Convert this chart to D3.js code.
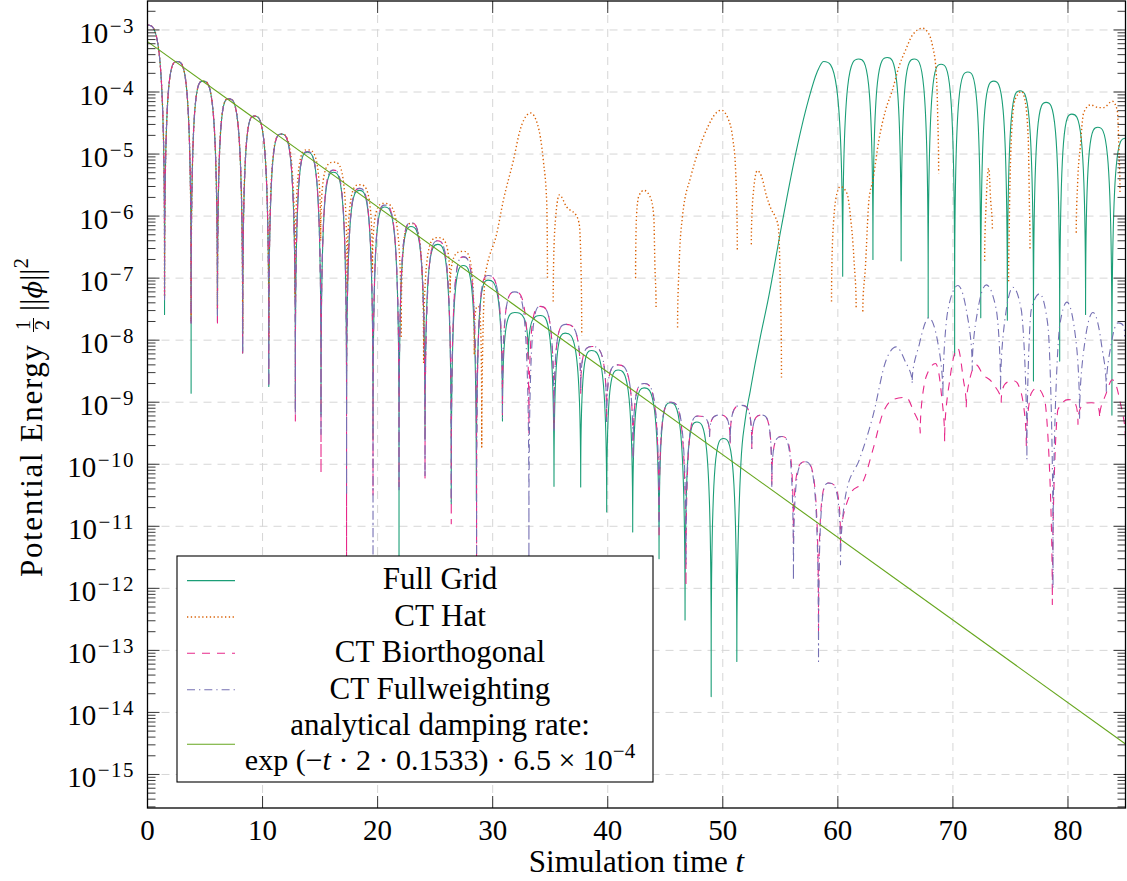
<!DOCTYPE html>
<html><head><meta charset="utf-8">
<script src="https://cdn.jsdelivr.net/npm/d3@7"></script>
<style>
body{margin:0;background:#fff}
svg{display:block}
text{font-family:"Liberation Serif","Times New Roman",serif;fill:#000}
</style></head>
<body><svg id="c" width="1127" height="881"></svg>
<script>
// ---------------- data (time t, potential energy) ----------------
const xTicks = [0,10,20,30,40,50,60,70,80];
const yTickExps = [-3,-4,-5,-6,-7,-8,-9,-10,-11,-12,-13,-14,-15];
const xDomain = [0,85];
const yDomain = [2.88e-16, 2.93e-3];

const fullGrid = [[0,1.2e-3],[1.48,2.6e-8],[2.58,3.1e-4],[3.79,1.4e-9],[4.83,1.5e-4],[6.08,2.0e-8],[7.06,7.8e-5],[8.27,6.2e-9],[9.29,4.1e-5],[10.54,1.8e-9],[11.63,2.1e-5],[12.85,7.9e-10],[13.89,1.07e-5],[15.08,6.3e-10],[16.17,5.1e-6],[17.3,6.6e-10],[18.43,2.6e-6],[19.6,2.5e-10],[20.62,1.4e-6],[21.86,3.2e-13],[22.9,6.8e-7],[24.12,2.6e-10],[25.23,3.5e-7],[26.4,2.3e-11],[27.45,1.6e-7],[28.58,2.6e-11],[29.6,9.3e-8],[30.85,5.0e-10],[31.92,2.8e-8],[33.1,5.0e-9],[34.15,2.5e-8],[35.33,4.4e-11],[36.3,1.3e-8],[37.65,4.3e-11],[38.58,6.8e-9],[39.91,1.7e-11],[40.9,3.3e-9],[42.17,8.1e-12],[43.16,1.7e-9],[44.46,3.0e-12],[45.42,9.8e-10],[46.72,3.1e-13],[47.74,4.8e-10],[48.99,1.8e-14],[50.06,2.6e-10],[51.22,6.6e-14],[51.57,1.0e-10],[51.94,5.1e-10],[52.38,1.5e-9],[52.81,4.2e-9],[53.25,1.1e-8],[53.94,4.5e-8],[55.1,6.8e-7],[56.28,9.1e-6],[57.44,7.4e-5],[58.2,2.1e-4],[58.76,3.1e-4],[60.42,1.07e-7],[61.82,3.4e-4],[63.05,2.0e-7],[64.3,3.6e-4],[65.5,1.9e-7],[66.63,3.4e-4],[67.85,2.3e-8],[68.97,2.8e-4],[70.15,5.6e-9],[71.3,2.1e-4],[72.42,2.3e-8],[73.55,1.5e-4],[74.73,2.1e-8],[75.82,1.05e-4],[77.0,2.2e-9],[78.1,6.8e-5],[79.28,4.6e-9],[80.34,4.4e-5],[81.53,2.6e-8],[82.59,2.7e-5],[83.82,6.2e-10],[85,1.8e-5]];

const ctHat = [[0,1.2e-3],[1.48,5.0e-8],[2.58,3.1e-4],[3.79,2.0e-8],[4.83,1.5e-4],[6.08,3.2e-8],[7.06,7.8e-5],[8.27,1.26e-8],[9.29,4.1e-5],[10.54,1.0e-8],[11.63,2.1e-5],[12.82,5.0e-8],[13.89,1.17e-5],[15.05,4.0e-7],[16.2,7.4e-6],[17.35,5.8e-8],[18.43,3.2e-6],[19.55,1.26e-7],[20.6,1.6e-6],[22.05,1.15e-8],[22.9,7.6e-7],[24.0,4.3e-9],[25.22,4.5e-7],[26.3,6.0e-8],[27.46,2.7e-7],[28.4,5.8e-9],[28.72,3.5e-8],[29.05,1.9e-10],[29.33,1.05e-7],[29.48,1.5e-7],[30.35,5.2e-7],[30.93,1.8e-6],[31.8,7.9e-6],[32.4,2.5e-5],[33.0,4.3e-5],[33.3,4.6e-5],[33.9,3.0e-5],[34.4,7.9e-6],[34.7,1.6e-6],[34.76,9.3e-8],
 null,[35.26,4.2e-8],[35.4,6.3e-7],[35.8,2.2e-6],[36.43,1.4e-6],[37.3,1.0e-6],[37.55,6.8e-7],[37.74,1.2e-8],
 null,[42.42,1.0e-7],[42.5,1.0e-6],[42.7,2.1e-6],[43.15,2.6e-6],[43.73,1.95e-6],[44.0,1.0e-6],[44.1,1.6e-7],[44.2,3.1e-8],
 null,[46.07,1.6e-8],[46.2,1.55e-7],[46.5,1.0e-6],[47.23,4.4e-6],[47.8,1.02e-5],[48.7,2.75e-5],[49.42,4.6e-5],[49.86,5.1e-5],[50.44,3.8e-5],[50.88,1.7e-5],[51.1,6.3e-6],[51.26,2.7e-7],
 null,[52.48,3.5e-7],[52.6,1.8e-6],[53.0,5.4e-6],[53.36,4.4e-6],[53.8,2.1e-6],[54.23,1.26e-6],[54.53,1.0e-6],[54.82,6.8e-7],[54.96,1.55e-7],[55.1,2.5e-9],
 null,[59.45,4.2e-8],[59.57,5.4e-7],[59.92,2.3e-6],[60.22,3.0e-6],[60.8,2.3e-6],[61.09,1.0e-6],[61.4,2.0e-7],[61.59,3.2e-8],
 null,[62.17,2.9e-8],[62.4,1.55e-7],[62.7,1.8e-6],[63.05,3.8e-6],[63.57,1.7e-5],[64.15,5.1e-5],[64.74,1.07e-4],[65.32,2.6e-4],[65.9,4.8e-4],[66.49,8.3e-4],[67.36,1.07e-3],[67.8,9.3e-4],[68.24,5.4e-4],[68.53,2.3e-4],[68.68,4.0e-5],[68.76,4.9e-6],
 null,[72.76,1.9e-7],[72.9,1.8e-6],[73.11,5.9e-6],[73.28,1.8e-6],[73.43,6.0e-7],
 null,[74.84,8.9e-8],[74.89,5.4e-7],[75.1,2.2e-5],[75.39,7.4e-5],[75.97,1.02e-4],[76.26,7.4e-5],[76.55,1.7e-5],[76.64,1.8e-6],[76.7,3.0e-7],
 null,[80.72,5.4e-7],[80.84,3.4e-6],[81.07,1.3e-5],[81.36,4.6e-5],[81.95,6.2e-5],[82.67,5.6e-5],[83.1,5.6e-5],[83.85,7.1e-5],[84.28,5.1e-5],[84.43,1.17e-5],[84.52,2.3e-6]];

const ctBiorthogonal = [[0,1.2e-3],[1.48,4.5e-8],[2.58,3.1e-4],[3.79,1.9e-8],[4.83,1.5e-4],[6.08,1.9e-8],[7.06,7.8e-5],[8.27,6.2e-9],[9.29,4.1e-5],[10.54,1.8e-9],[11.63,2.1e-5],[12.85,5.0e-10],[13.89,1.1e-5],[15.08,7.2e-11],[16.17,5.5e-6],[17.3,3.2e-13],[18.43,2.8e-6],[19.6,3.2e-11],[20.62,1.5e-6],[21.86,3.9e-11],[22.9,7.8e-7],[24.12,6.0e-11],[25.23,4.0e-7],[26.4,1.1e-11],[27.45,2.2e-7],[28.6,3.2e-13],[29.6,1.1e-7],[30.85,6.3e-10],[31.92,6.0e-8],[33.15,3.2e-10],[34.15,3.5e-8],[35.33,3.5e-10],[36.35,1.8e-8],[37.65,1.4e-9],[38.65,7.9e-9],[39.9,4.7e-10],[40.9,4.0e-9],[42.2,1.2e-10],[43.16,2.0e-9],[44.46,6.3e-12],[45.5,1.0e-9],[46.8,1.1e-12],[47.82,6.0e-10],[48.85,2.8e-10],[49.77,6.2e-10],[50.64,2.2e-10],[51.65,8.9e-10],[52.52,1.8e-10],[53.39,6.2e-10],[54.26,4.4e-11],[55.13,2.8e-10],[56.14,5.0e-12],[57.16,1.1e-10],[58.32,2.1e-13],[59.2,5.0e-11],[60.23,5.4e-12],[61.16,3.5e-11],[62.17,5.2e-11],[63.04,1.7e-10],[63.91,6.6e-10],[64.78,1.1e-9],[65.94,1.2e-9],[66.52,7.6e-10],[67.16,3.2e-10],[67.68,2.6e-9],[68.49,4.2e-9],[68.99,1.4e-9],[69.28,2.3e-10],[69.77,2.6e-9],[70.43,7.4e-9],[70.87,2.6e-9],[71.16,8.1e-10],[71.45,2.3e-9],[72.03,4.0e-9],[72.61,2.8e-9],[73.48,2.0e-9],[74.2,1.0e-9],[75.36,2.2e-9],[75.94,1.4e-9],[76.38,1.9e-10],[76.81,1.4e-9],[77.3,1.7e-9],[77.97,1.1e-9],[78.64,5.5e-13],[79.13,7.6e-10],[80.0,1.1e-9],[80.87,4.4e-10],[82.03,9.8e-10],[82.75,5.5e-10],[83.33,1.4e-9],[83.86,2.3e-9],[84.49,1.1e-9],[85.0,2.3e-10]];

const ctFullweighting = [[0,1.2e-3],[1.48,4.5e-8],[2.58,3.1e-4],[3.79,1.9e-8],[4.83,1.5e-4],[6.08,2.5e-8],[7.06,7.8e-5],[8.27,6.3e-9],[9.29,4.1e-5],[10.54,1.8e-9],[11.63,2.1e-5],[12.85,6.3e-10],[13.89,1.1e-5],[15.08,2.8e-10],[16.17,5.5e-6],[17.3,3.4e-11],[18.43,2.8e-6],[19.6,3.2e-13],[20.62,1.5e-6],[21.86,3.9e-11],[22.9,7.8e-7],[24.12,6.0e-11],[25.23,4.0e-7],[26.4,2.5e-11],[27.45,2.2e-7],[28.6,3.2e-13],[29.6,1.1e-7],[30.85,5.6e-10],[31.92,6.0e-8],[33.15,3.2e-13],[34.15,3.5e-8],[35.33,3.5e-10],[36.35,1.8e-8],[37.65,1.5e-9],[38.65,7.9e-9],[39.9,4.9e-10],[40.9,4.0e-9],[42.2,1.2e-10],[43.16,2.0e-9],[44.46,1.0e-11],[45.5,1.0e-9],[46.8,2.5e-12],[47.86,6.0e-10],[48.85,2.8e-10],[49.77,6.2e-10],[50.64,2.2e-10],[51.65,8.9e-10],[52.52,1.8e-10],[53.39,6.2e-10],[54.26,4.4e-11],[55.13,2.8e-10],[56.14,1.35e-12],[57.16,1.1e-10],[58.32,6.6e-14],[59.2,5.0e-11],[60.23,2.4e-12],[60.72,3.5e-11],[61.88,1.2e-10],[63.04,5.9e-10],[64.2,4.8e-9],[65.07,7.8e-9],[65.8,4.8e-9],[66.46,2.0e-9],[67.1,8.9e-9],[67.91,2.3e-8],[68.7,8.9e-9],[69.13,1.2e-9],[69.57,3.1e-8],[70.43,7.6e-8],[71.16,3.1e-8],[71.68,3.3e-9],[72.17,3.1e-8],[72.9,7.8e-8],[73.77,3.1e-8],[74.14,1.5e-9],[74.64,3.1e-8],[75.22,7.1e-8],[75.94,3.1e-8],[76.43,1.2e-10],[76.81,3.1e-8],[77.54,5.6e-8],[78.26,1.7e-8],[78.7,1.0e-12],[79.28,1.7e-8],[79.91,4.1e-8],[80.72,8.9e-9],[81.01,5.5e-10],[81.45,8.9e-9],[82.17,2.8e-8],[82.9,8.9e-9],[83.33,1.5e-9],[83.77,8.9e-9],[84.35,1.9e-8],[84.93,1.15e-8]];

// analytical damping rate exp(-t*2*0.1533)*6.5e-4, end points of the straight (log) line
const analytical = [[0,6.5e-4],[85,3.1e-15]];

const seriesNames = ["Full Grid","CT Hat","CT Biorthogonal","CT Fullweighting"];
const seriesColors = ["#1b9e77","#d95f02","#e7298a","#7570b3","#66a61e"];

// ---------------- layout ----------------
const X0=147.5, X1=1125.5, Y0=1, Y1=808;
const x = d3.scaleLinear().domain(xDomain).range([X0,X1]);
const y = d3.scaleLog().domain(yDomain).range([Y1,Y0]);
const svg = d3.select('#c');

// custom curve: horizontal tangents at maxima, vertical (cusp) tangents at minima
function drawLobes(ctx, p){
  const n=p.length; if(!n) return;
  ctx.moveTo(p[0][0],p[0][1]); if(n===1) return;
  const type=p.map((q,i)=>{
    const a=p[i-1], b=p[i+1];
    if(!a) return b[1]>q[1]?'max':'min';
    if(!b) return a[1]>q[1]?'max':'min';
    if(q[1]<a[1]&&q[1]<b[1]) return 'max';
    if(q[1]>a[1]&&q[1]>b[1]) return 'min';
    return 'mid';
  });
  const slope=i=>{
    const a=p[i-1], q=p[i], b=p[i+1];
    const h0=q[0]-a[0], h1=b[0]-q[0];
    const s0=(q[1]-a[1])/h0, s1=(b[1]-q[1])/h1;
    const pp=(s0*h1+s1*h0)/(h0+h1);
    return (Math.sign(s0)+Math.sign(s1))*Math.min(Math.abs(s0),Math.abs(s1),0.5*Math.abs(pp))||0;
  };
  const A=230;
  for(let i=0;i<n-1;i++){
    let xa=p[i][0], ya=p[i][1], xb=p[i+1][0], yb=p[i+1][1];
    const ta=type[i], tb=type[i+1];
    if(ta==='min' && ya-yb>A){ ya=yb+A; ctx.lineTo(xa,ya); }
    const yEnd=yb; let needle=false;
    if(tb==='min' && yb-ya>A){ yb=ya+A; needle=true; }
    const dx=xb-xa, dy=yb-ya;
    let c1,c2;
    if(ta==='max') c1=[xa+dx*(tb==='min'?0.5:1/3), ya];
    else if(ta==='min') c1=[xa, ya+dy*(tb==='max'?1:0.5)];
    else { const m=slope(i); c1=[xa+dx/3, ya+m*dx/3]; }
    if(tb==='max') c2=[xb-dx*(ta==='min'?0.5:1/3), yb];
    else if(tb==='min') c2=[xb, yb-dy*(ta==='max'?1:0.5)];
    else { const m=slope(i+1); c2=[xb-dx/3, yb-m*dx/3]; }
    ctx.bezierCurveTo(c1[0],c1[1],c2[0],c2[1],xb,yb);
    if(needle) ctx.lineTo(xb,yEnd);
  }
}
function curveLobe(context){
  let pts;
  return {areaStart(){},areaEnd(){},lineStart(){pts=[];},point(a,b){pts.push([+a,+b]);},lineEnd(){drawLobes(context,pts);}};
}

// grid
const grid=svg.append('g').attr('stroke','#d6d6d6').attr('stroke-width',1).attr('stroke-dasharray','8 6');
xTicks.forEach(t=>grid.append('line').attr('x1',x(t)).attr('x2',x(t)).attr('y1',Y0).attr('y2',Y1));
yTickExps.forEach(e=>grid.append('line').attr('x1',X0).attr('x2',X1).attr('y1',y(Math.pow(10,e))).attr('y2',y(Math.pow(10,e))));

// curves
svg.append('clipPath').attr('id','clip').append('rect').attr('x',X0).attr('y',Y0).attr('width',X1-X0).attr('height',Y1-Y0);
const plot=svg.append('g').attr('clip-path','url(#clip)');
const lineLobe=d3.line().defined(d=>d!==null).x(d=>x(d[0])).y(d=>y(d[1])).curve(curveLobe);
const lineStraight=d3.line().x(d=>x(d[0])).y(d=>y(d[1]));
const dashes=[null,"1.3 2.5","8 7","8 4 1.3 4",null];
const allSeries=[fullGrid,ctHat,ctBiorthogonal,ctFullweighting];
allSeries.forEach((s,i)=>{
  plot.append('path').attr('d',lineLobe(s)).attr('fill','none').attr('stroke',seriesColors[i])
    .attr('stroke-width',i===1?1.4:1.1).attr('stroke-dasharray',dashes[i]).attr('stroke-linejoin','round');
});
plot.append('path').attr('d',lineStraight(analytical)).attr('fill','none').attr('stroke',seriesColors[4]).attr('stroke-width',1.1);

// ticks
const tk=svg.append('g').attr('stroke','#222').attr('stroke-width',0.9);
yTickExps.forEach(e=>{
  const yy=y(Math.pow(10,e));
  tk.append('line').attr('x1',X0).attr('x2',X0+12).attr('y1',yy).attr('y2',yy);
  tk.append('line').attr('x1',X1).attr('x2',X1-12).attr('y1',yy).attr('y2',yy);
});
for(let k=-16;k<=-3;k++) for(let m=2;m<=9;m++){
  const v=m*Math.pow(10,k);
  if(v<yDomain[0]||v>yDomain[1]) continue;
  const yy=y(v);
  tk.append('line').attr('x1',X0).attr('x2',X0+8).attr('y1',yy).attr('y2',yy);
  tk.append('line').attr('x1',X1).attr('x2',X1-8).attr('y1',yy).attr('y2',yy);
}
xTicks.forEach(t=>{
  tk.append('line').attr('x1',x(t)).attr('x2',x(t)).attr('y1',Y1).attr('y2',Y1-12);
  tk.append('line').attr('x1',x(t)).attr('x2',x(t)).attr('y1',Y0).attr('y2',Y0+12);
});
svg.append('rect').attr('x',X0).attr('y',Y0).attr('width',X1-X0).attr('height',Y1-Y0)
  .attr('fill','none').attr('stroke','#000').attr('stroke-width',1.3);

// tick labels
xTicks.forEach(t=>svg.append('text').attr('x',x(t)).attr('y',840).attr('text-anchor','middle').style('font-size','29px').text(t));
yTickExps.forEach(e=>{
  const yy=y(Math.pow(10,e));
  const tx=svg.append('text').attr('x',135).attr('y',yy+12.7).attr('text-anchor','end').style('font-size','29px');
  tx.append('tspan').text('10');
  tx.append('tspan').attr('dx',1.5).attr('dy',-10).style('font-size','21px').style('letter-spacing','1.5px').text('\u2212'+Math.abs(e));
});

// axis titles
const xt=svg.append('text').attr('x',(X0+X1)/2).attr('y',872).attr('text-anchor','middle').style('font-size','31px');
xt.append('tspan').text('Simulation time ');
xt.append('tspan').style('font-style','italic').text('t');

const yl=svg.append('g').attr('transform','translate(42,577) rotate(-90)');
yl.append('text').attr('x',0).attr('y',0).style('font-size','31px').attr('textLength',232).attr('lengthAdjust','spacing').text('Potential Energy');
yl.append('text').attr('x',252).attr('y',-12).attr('text-anchor','middle').style('font-size','20px').text('1');
yl.append('line').attr('x1',245).attr('x2',259).attr('y1',-8.5).attr('y2',-8.5).attr('stroke','#000').attr('stroke-width',1);
yl.append('text').attr('x',252).attr('y',7).attr('text-anchor','middle').style('font-size','20px').text('2');
const nt=yl.append('text').attr('x',266).attr('y',0).style('font-size','31px');
nt.append('tspan').text('||');
nt.append('tspan').style('font-style','italic').attr('font-family','DejaVu Serif').style('font-size','26px').text('\u03D5');
nt.append('tspan').text('||');
nt.append('tspan').attr('dy',-14).style('font-size','21px').text('2');

// legend
const lg=svg.append('g');
lg.append('rect').attr('x',177).attr('y',556).attr('width',476).attr('height',226).attr('fill','#fff').attr('stroke','#000').attr('stroke-width',1.1);
const rowY=[580.6,617,653.2,689.7,744.2];
const rowBase=[589,625.5,662,698.5];
for(let i=0;i<5;i++){
  lg.append('line').attr('x1',187).attr('x2',235).attr('y1',rowY[i]).attr('y2',rowY[i])
    .attr('stroke',seriesColors[i]).attr('stroke-width',i===1?1.4:1.1).attr('stroke-dasharray',dashes[i]);
}
seriesNames.forEach((s,i)=>lg.append('text').attr('x',440).attr('y',rowBase[i]).attr('text-anchor','middle').style('font-size','31px').text(s));
lg.append('text').attr('x',440).attr('y',734.5).attr('text-anchor','middle').style('font-size','31px').text('analytical damping rate:');
const ft=lg.append('text').attr('x',440).attr('y',770).attr('text-anchor','middle').style('font-size','30px');
ft.append('tspan').text('exp (\u2212');
ft.append('tspan').style('font-style','italic').text('t');
ft.append('tspan').text(' \u00B7 2 \u00B7 0.1533) \u00B7 6.5 \u00D7 10');
ft.append('tspan').attr('dy',-12).style('font-size','21px').text('\u22124');
</script></body></html>
